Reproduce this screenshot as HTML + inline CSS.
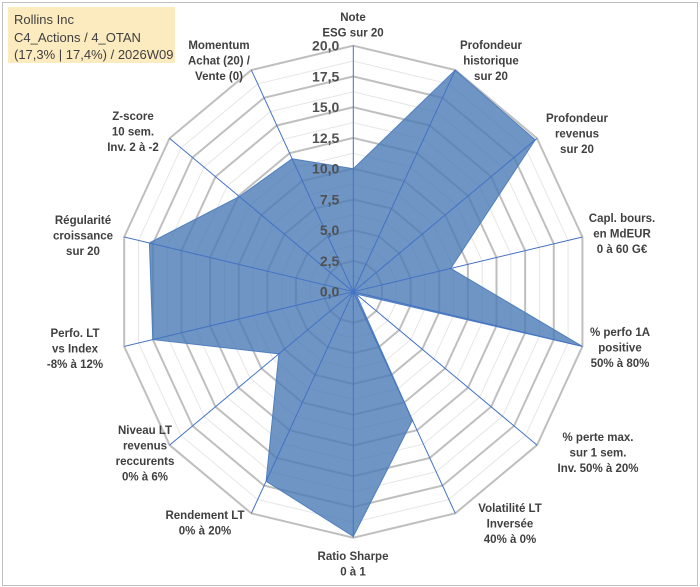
<!DOCTYPE html>
<html><head><meta charset="utf-8"><style>
body{margin:0;background:#fff}
#wrap{position:relative;width:700px;height:587px;overflow:hidden;font-family:"Liberation Sans",Arial,sans-serif}
#frame{position:absolute;left:2px;top:2px;width:694px;height:582px;border:1px solid #bfbfbf}
#title{position:absolute;left:8px;top:7px;width:167px;height:56px;background:#fdebc0;color:#404040;font-size:13px;line-height:17.5px;padding:4px 0 0 6px;box-sizing:border-box}
svg{position:absolute;left:0;top:0}
</style></head><body>
<div id="wrap">
<div id="frame"></div>
<svg id="svg" width="700" height="587"></svg>
<div id="title">Rollins Inc<br>C4_Actions / 4_OTAN<br>(17,3% | 17,4%) / 2026W09</div>
</div>
<script>
const categories=[["Note","ESG sur 20"],["Profondeur","historique","sur 20"],["Profondeur","revenus","sur 20"],["Capl. bours.","en MdEUR","0 à 60 G€"],["% perfo 1A","positive","50% à 80%"],["% perte max.","sur 1 sem.","Inv. 50% à 20%"],["Volatilité LT","Inversée","40% à 0%"],["Ratio Sharpe","0 à 1"],["Rendement LT","0% à 20%"],["Niveau LT","revenus","reccurents","0% à 6%"],["Perfo. LT","vs Index","-8% à 12%"],["Régularité","croissance","sur 20"],["Z-score","10 sem.","Inv. 2 à -2"],["Momentum","Achat (20) /","Vente (0)"]];
const values=[10,20,19.8,8.5,20,0.3,11.6,19.9,17.1,8.1,17.5,17.8,12.4,12];
const tickValues=[0,2.5,5,7.5,10,12.5,15,17.5,20];
const tickLabels=["0,0","2,5","5,0","7,5","10,0","12,5","15,0","17,5","20,0"];
const labelPos=[[353,17],[491,45],[577,118],[622,218],[620,332],[598,437],[510,508],[353,556],[205,515],[145,430],[75,333],[83,220],[133,116],[219,45]];
const NS="http://www.w3.org/2000/svg",svg=document.getElementById('svg');
const cx=353.3,cy=291.7,RX=235,RY=246,maxV=20,n=categories.length;
function ang(i){return i*2*Math.PI/n;}
function pt(i,v){const a=ang(i);return [cx+RX*(v/maxV)*Math.sin(a),cy-RY*(v/maxV)*Math.cos(a)];}
function mk(t,a){const e=document.createElementNS(NS,t);for(const k in a)e.setAttribute(k,a[k]);svg.appendChild(e);return e;}
for(let k=0;k<tickValues.length-1;k++){
 const v=(tickValues[k]+tickValues[k+1])/2;
 const p=categories.map((c,i)=>pt(i,v).join(',')).join(' ');
 const e=mk('polygon',{points:p,fill:'none',stroke:'#e6e6e6','stroke-width':1});
 
 
}
tickValues.forEach(v=>{if(v===0)return;
 const p=categories.map((c,i)=>pt(i,v).join(',')).join(' ');
 const e=mk('polygon',{points:p,fill:'none',stroke:'#bfbfbf','stroke-width':2});
 
 
});
const sp=values.map((v,i)=>pt(i,v).join(',')).join(' ');
const poly=mk('polygon',{points:sp,fill:'#4a7ab5','fill-opacity':0.8,stroke:'#4f7fc0','stroke-width':1});


categories.forEach((c,i)=>{const p=pt(i,maxV);
 const e=mk('line',{x1:cx,y1:cy,x2:p[0],y2:p[1],stroke:'#4472c4','stroke-width':1});
 
 
});
tickValues.forEach((v,k)=>{const p=pt(0,v);
 const t=mk('text',{x:cx-14,y:p[1]+5,'text-anchor':'end','font-size':14,'font-weight':'bold',fill:'#505050'});
 t.textContent=tickLabels[k];
 
 
});
categories.forEach((lines,i)=>{const [x,y]=labelPos[i];
 const t=mk('text',{x:x,y:y+4,'text-anchor':'middle','font-size':11.5,'font-weight':'bold',fill:'#404040'});
 
 
 lines.forEach((l,j)=>{const s=document.createElementNS(NS,'tspan');s.setAttribute('x',x);s.setAttribute('dy',j?15.5:0);s.textContent=l;t.appendChild(s);});
});
</script>
</body></html>
